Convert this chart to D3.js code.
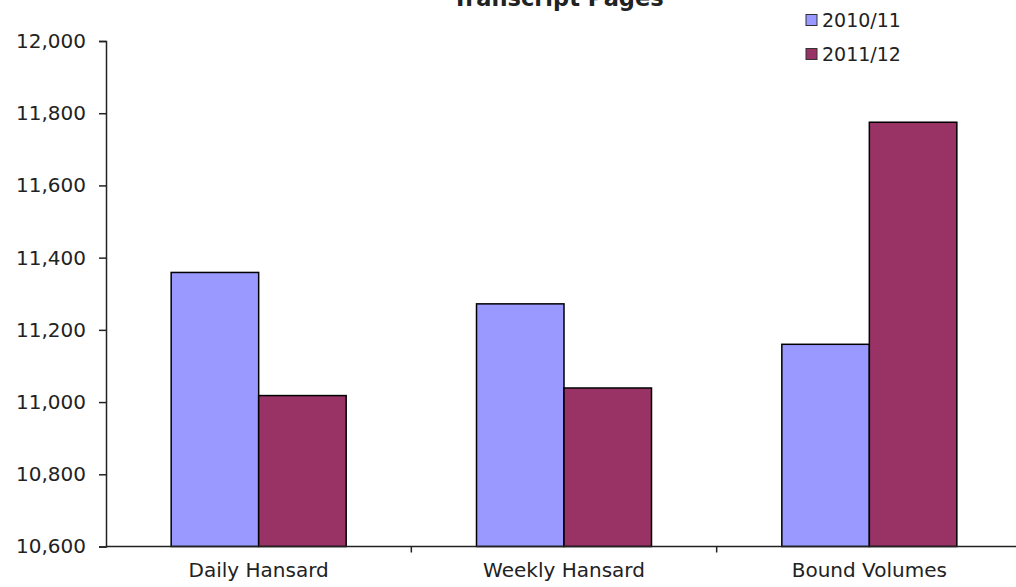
<!DOCTYPE html>
<html>
<head>
<meta charset="utf-8">
<script src="https://cdn.jsdelivr.net/npm/d3@7"></script>
<style>
  html, body { margin: 0; padding: 0; background: #ffffff; overflow: hidden; }
  svg { display: block; }
  text { font-family: "DejaVu Sans", Verdana, sans-serif; fill: #222; }
</style>
</head>
<body>
<svg id="chart" width="1016" height="587"></svg>
<script>
// Transcript pages by publication, two reporting years
const categories = ["Daily Hansard", "Weekly Hansard", "Bound Volumes"];
const seriesNames = ["2010/11", "2011/12"];
const values2010 = [11359, 11272, 11160];
const values2011 = [11018, 11039, 11775];
const yTicks = [10600, 10800, 11000, 11200, 11400, 11600, 11800, 12000];
const colors = ["#9999ff", "#993366"];

const svg = d3.select("#chart");
const plotLeft = 106, plotRight = 1022, plotTop = 41, plotBottom = 546.5;

const y = d3.scaleLinear().domain([10600, 12000]).range([plotBottom, plotTop]);
const x0 = d3.scaleBand().domain(categories).range([plotLeft, plotRight]).padding(0);
const groupW = 175;
const x1 = d3.scaleBand().domain(seriesNames)
  .range([(x0.bandwidth() - groupW) / 2, (x0.bandwidth() + groupW) / 2]).padding(0);

const rows = categories.map((c, i) => ({ cat: c, vals: [values2010[i], values2011[i]] }));

// bars
const groups = svg.append("g").selectAll("g").data(rows).join("g")
  .attr("transform", d => `translate(${x0(d.cat)},0)`);
groups.selectAll("rect").data(d => d.vals.map((v, j) => ({ s: seriesNames[j], v, j })))
  .join("rect")
  .attr("x", d => x1(d.s))
  .attr("width", x1.bandwidth())
  .attr("y", d => y(d.v))
  .attr("height", d => plotBottom - y(d.v))
  .attr("fill", d => colors[d.j])
  .attr("stroke", "#000")
  .attr("stroke-width", 1.5);

// y axis
const yAxis = svg.append("g").attr("transform", `translate(${plotLeft},0)`)
  .call(d3.axisLeft(y).tickValues(yTicks).tickFormat(d3.format(",")).tickSize(7).tickPadding(13));
yAxis.select(".domain").attr("stroke", "#222").attr("stroke-width", 1.5);
yAxis.selectAll(".tick line").attr("stroke", "#222").attr("stroke-width", 1.5);
yAxis.selectAll(".tick text").style("font-size", "20px").attr("fill", "#222");

// x axis: line plus ticks at category boundaries
const xg = svg.append("g");
xg.append("line").attr("x1", plotLeft).attr("x2", plotRight).attr("y1", plotBottom).attr("y2", plotBottom)
  .attr("stroke", "#222").attr("stroke-width", 1.5);
xg.selectAll("line.tk").data(categories.slice(1)).join("line").attr("class", "tk")
  .attr("x1", d => x0(d)).attr("x2", d => x0(d))
  .attr("y1", plotBottom).attr("y2", plotBottom + 6)
  .attr("stroke", "#222").attr("stroke-width", 1.5);
xg.selectAll("text").data(categories).join("text")
  .attr("x", d => x0(d) + x0.bandwidth() / 2)
  .attr("y", 577)
  .attr("text-anchor", "middle")
  .style("font-size", "20px")
  .text(d => d);

// title, sitting at the top edge
svg.append("text").attr("x", 558).attr("y", 6).attr("text-anchor", "middle")
  .style("font-size", "22.5px").style("font-weight", "bold").attr("fill", "#111")
  .text("Transcript Pages");

// legend
const lg = svg.append("g").selectAll("g").data(seriesNames).join("g")
  .attr("transform", (d, i) => `translate(806,${20 + i * 34})`);
lg.append("rect").attr("x", 0).attr("y", -5.5).attr("width", 11).attr("height", 11)
  .attr("fill", (d, i) => colors[i]).attr("stroke", "#333").attr("stroke-width", 1);
lg.append("text").attr("x", 16).attr("y", 0).attr("dy", "0.36em")
  .style("font-size", "19px").text(d => d);
</script>
</body>
</html>
